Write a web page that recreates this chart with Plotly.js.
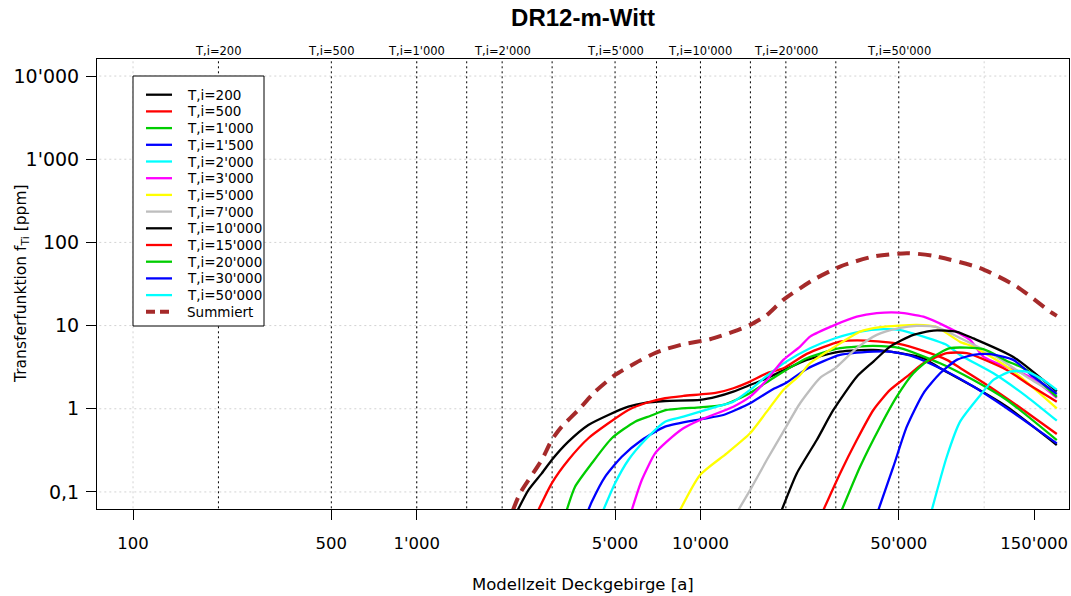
<!DOCTYPE html>
<html><head><meta charset="utf-8">
<script src="https://cdn.plot.ly/plotly-3.0.1.min.js"></script>
<style>html,body{margin:0;padding:0;background:#fff}#chart{width:1071px;height:596px}</style>
</head><body><div id="chart"></div>
<script>
// ---------------- DATA ----------------
const chartTitle = "DR12-m-Witt";
const xTitle = "Modellzeit Deckgebirge [a]";
const yTitle = "Transferfunktion f<sub>Ti</sub> [ppm]";

const seriesNames = ["T,i=200","T,i=500","T,i=1'000","T,i=1'500","T,i=2'000","T,i=3'000","T,i=5'000",
  "T,i=7'000","T,i=10'000","T,i=15'000","T,i=20'000","T,i=30'000","T,i=50'000"];
const sumName = "Summiert";

const x_Ti200 = [2270,2475,2758,2991,3423,4026,4736,5570,6380,7503,9967,11417,13061,14958,17128,20000,23700,31050,40690,50520,61070,69930,91600,120200,180300];
const y_Ti200 = [0.0606,0.105,0.167,0.242,0.402,0.638,0.842,1.06,1.18,1.24,1.28,1.40,1.61,1.93,2.33,2.99,3.87,4.87,5.10,4.66,4.05,3.07,1.85,1.06,0.367];

const x_Ti500 = [2683,2991,3423,4026,4736,5570,6380,7503,8705,11417,13061,14958,17128,19596,23700,31050,38570,50120,61070,73820,82230,104900,137500,180300];
const y_Ti500 = [0.0606,0.127,0.242,0.442,0.669,0.967,1.165,1.338,1.426,1.562,1.765,2.12,2.67,3.07,4.57,6.42,6.60,6.02,4.96,3.87,3.10,1.83,0.967,0.498];

const x_Ti1000 = [3379,3614,4140,4869,5882,6643,7607,9967,12040,14958,18070,23700,31050,40690,50520,69930,91600,120200,180300];
const y_Ti1000 = [0.0606,0.1155,0.221,0.442,0.70,0.819,0.967,1.042,1.111,1.55,2.35,4.05,5.35,5.70,5.35,3.53,2.22,1.276,0.421];

const x_Ti1500 = [4026,4140,4610,5280,6212,7503,9967,12040,14958,18070,20000,23700,31050,40690,46590,56280,69930,91600,120200,180300];
const y_Ti1500 = [0.0606,0.0762,0.152,0.265,0.421,0.609,0.748,0.842,1.165,1.73,2.04,3.01,4.44,4.87,4.87,4.24,3.07,1.85,1.014,0.384];

const x_Ti2000 = [4547,5000,5570,6380,7503,8705,11417,13061,14958,17128,20000,24337,29820,36530,44120,50120,61070,73820,82230,107800,141300,180300];
const y_Ti2000 = [0.0606,0.127,0.242,0.421,0.70,0.803,1.06,1.217,1.684,2.48,3.66,5.35,7.05,8.47,9.05,8.88,7.37,5.86,4.44,2.67,1.40,0.719];

const x_Ti3000 = [5727,6212,6918,7607,8705,9967,13061,14958,17128,19596,22443,24337,29820,35563,41820,50120,61070,73820,89180,99680,145200,180300];
const y_Ti3000 = [0.0606,0.139,0.291,0.402,0.582,0.733,1.06,1.398,2.22,3.87,5.59,7.37,10.2,12.8,14.1,14.3,12.8,9.65,6.73,4.20,2.41,1.35];

const x_Ti5000 = [8475,9967,12380,14958,17128,19596,22443,24337,29820,36530,42960,50120,57850,68080,82230,91600,120200,145200,180300];
const y_Ti5000 = [0.0606,0.160,0.291,0.507,0.923,1.684,2.55,3.53,5.59,8.47,9.57,10.0,10.2,9.57,6.37,5.59,3.21,1.93,1.014];

const x_Ti7000 = [13602,14958,17128,19596,22443,26400,29820,35563,41820,50120,57850,68080,82230,107800,141300,180300];
const y_Ti7000 = [0.0606,0.105,0.242,0.530,1.165,2.35,3.07,5.35,7.73,9.31,9.92,9.57,7.11,4.44,2.43,1.466];

const x_Ti10000 = [19344,21850,25700,29410,35563,40690,46590,56280,66220,80040,91600,126700,180300];
const y_Ti10000 = [0.0606,0.167,0.421,0.967,2.43,3.69,5.59,7.73,8.71,8.43,7.01,4.20,1.615];

const x_Ti15000 = [27117,31050,35563,40690,46590,53360,61070,73820,86820,120200,141300,180300];
const y_Ti15000 = [0.0606,0.167,0.421,0.967,1.684,2.43,3.53,4.66,4.66,2.93,2.03,1.217];

const x_Ti20000 = [31486,36530,42960,49190,56280,64470,75830,99360,120200,141300,180300];
const y_Ti20000 = [0.0606,0.201,0.609,1.398,2.67,4.0,5.35,5.20,3.76,2.93,1.387];

const x_Ti30000 = [42370,47860,53360,61070,69930,80040,91600,104900,126700,149100,180300];
const y_Ti30000 = [0.0606,0.201,0.609,1.536,2.67,3.87,4.44,4.53,3.87,2.43,1.51];

const x_Ti50000 = [65370,73820,82230,97050,107800,123400,141300,161700,180300];
const y_Ti50000 = [0.0606,0.265,0.70,1.466,2.22,2.80,2.80,2.22,1.684];

const x_Sum = [2184,2312,2758,2991,3244,3712,4251,5000,5882,7106,8705,10810,13061,14958,17128,19596,25000,31050,40690,53360,66220,96740,130300,170800,180300];
const y_Sum = [0.0606,0.0962,0.242,0.421,0.609,0.967,1.606,2.55,3.53,4.87,5.97,6.86,8.47,10.2,13.4,20.4,35.5,51.3,67.7,74.3,69.0,49.1,29.5,14.7,13.1];

// vertical reference lines (T,i values) and the labelled ones
const tiLines = [200,500,1000,1500,2000,3000,5000,7000,10000,15000,20000,30000,50000];
const tiLabelled = [200,500,1000,2000,5000,10000,20000,50000];

// axis ticks
const xTickVals = [100,500,1000,5000,10000,50000,150000];
const yTickVals = [0.1,1,10,100,1000,10000];
const yTickText = ["0,1","1","10","100","1'000","10'000"];
const gridX = [100,1000,10000,100000];
const gridY = [0.1,1,10,100,1000,10000];

// ---------------- STYLE ----------------
const seriesColors = ["#000000","#FF0000","#00CD00","#0000FF","#00FFFF","#FF00FF","#FFFF00",
  "#BEBEBE","#000000","#FF0000","#00CD00","#0000FF","#00FFFF"];
const sumColor = "#A52A2A";
const FONT = "DejaVu Sans, Verdana, sans-serif";

const fmt = v => String(v).replace(/\B(?=(\d{3})+(?!\d))/g, "'");

const seriesX = [x_Ti200,x_Ti500,x_Ti1000,x_Ti1500,x_Ti2000,x_Ti3000,x_Ti5000,x_Ti7000,x_Ti10000,x_Ti15000,x_Ti20000,x_Ti30000,x_Ti50000];
const seriesY = [y_Ti200,y_Ti500,y_Ti1000,y_Ti1500,y_Ti2000,y_Ti3000,y_Ti5000,y_Ti7000,y_Ti10000,y_Ti15000,y_Ti20000,y_Ti30000,y_Ti50000];

const traces = [];
// light grey dotted grid
const gx = [], gy = [];
gridY.forEach(v => { gx.push(10, 1e7, null); gy.push(v, v, null); });
gridX.forEach(v => { gx.push(v, v, null); gy.push(1e-3, 1e6, null); });
traces.push({x: gx, y: gy, mode: 'lines', line: {color: '#D3D3D3', width: 1, dash: '2px,3px'},
  hoverinfo: 'skip', showlegend: false});
// black dotted T,i lines
const vx = [], vy = [];
tiLines.forEach(v => { vx.push(v, v, null); vy.push(1e-3, 1e6, null); });
traces.push({x: vx, y: vy, mode: 'lines', line: {color: '#000000', width: 1, dash: '2px,3px'},
  hoverinfo: 'skip', showlegend: false});

seriesNames.forEach((n, i) => {
  traces.push({x: seriesX[i], y: seriesY[i], name: n, mode: 'lines',
    line: {color: seriesColors[i], width: 2.3, shape: 'spline', smoothing: 0.6}, showlegend: false});
});
traces.push({x: x_Sum, y: y_Sum, name: sumName, mode: 'lines',
  line: {color: sumColor, width: 4, dash: '13px,8px', shape: 'spline', smoothing: 0.6}, showlegend: false});

// ---------------- LAYOUT ----------------
const L = 97, R = 1069, T = 59, B = 509;
const px = p => (p - L) / (R - L);
const py = p => (B - p) / (B - T);

const shapes = [], annotations = [];
// legend box
shapes.push({type: 'rect', xref: 'paper', yref: 'paper', x0: px(133), x1: px(264), y0: py(326), y1: py(76),
  line: {color: '#000', width: 1}, fillcolor: '#fff', layer: 'above'});
const legendNames = seriesNames.concat([sumName]);
const legendColors = seriesColors.concat([sumColor]);
legendNames.forEach((n, i) => {
  const rowY = 94.7 + i * 16.7;
  const isSum = i === legendNames.length - 1;
  shapes.push({type: 'line', xref: 'paper', yref: 'paper', x0: px(146), x1: px(172), y0: py(rowY), y1: py(rowY),
    line: {color: legendColors[i], width: isSum ? 4 : 2.3, dash: isSum ? '9px,5px' : 'solid'}, layer: 'above'});
  annotations.push({xref: 'paper', yref: 'paper', x: px(185), y: py(rowY), xanchor: 'left', yanchor: 'middle',
    text: n, showarrow: false, font: {family: FONT, size: 13.5, color: '#000'}});
});
// top T,i labels
tiLabelled.forEach(v => {
  annotations.push({xref: 'x', yref: 'paper', x: Math.log10(v), y: py(50.7), xanchor: 'center', yanchor: 'middle',
    text: 'T,i=' + fmt(v), showarrow: false, font: {family: FONT, size: 11.5, color: '#000'}});
});
// axis titles
annotations.push({xref: 'paper', yref: 'paper', x: 0.5, y: py(584), xanchor: 'center', yanchor: 'middle',
  text: xTitle, showarrow: false, font: {family: FONT, size: 16.5, color: '#000'}});
annotations.push({xref: 'paper', yref: 'paper', x: px(22), y: 0.5, xanchor: 'center', yanchor: 'middle',
  text: yTitle, textangle: -90, showarrow: false, font: {family: FONT, size: 15.5, color: '#000'}});

const layout = {
  width: 1071, height: 596,
  margin: {l: L, r: 1071 - R, t: T, b: 596 - B, pad: 0},
  paper_bgcolor: '#fff', plot_bgcolor: '#fff',
  showlegend: false,
  title: {text: '<b>' + chartTitle + '</b>', x: 0.5, xref: 'paper', xanchor: 'center',
    y: 1 - 18 / 596, yref: 'container', yanchor: 'middle',
    font: {family: 'Liberation Sans, Arial, sans-serif', size: 24, color: '#000'}},
  xaxis: {type: 'log', range: [1.873, 5.299], showgrid: false, zeroline: false,
    showline: true, mirror: true, linecolor: '#000', linewidth: 1,
    ticks: 'outside', ticklen: 10, tickwidth: 1, tickcolor: '#000',
    tickvals: xTickVals, ticktext: xTickVals.map(fmt), ticklabelstandoff: 9,
    tickfont: {family: FONT, size: 16.5, color: '#000'}},
  yaxis: {type: 'log', range: [-1.205, 4.205], showgrid: false, zeroline: false,
    showline: true, mirror: true, linecolor: '#000', linewidth: 1,
    ticks: 'outside', ticklen: 10, tickwidth: 1, tickcolor: '#000',
    tickvals: yTickVals, ticktext: yTickText, ticklabelstandoff: 3,
    tickfont: {family: FONT, size: 19, color: '#000'}},
  shapes: shapes,
  annotations: annotations
};

Plotly.newPlot('chart', traces, layout, {staticPlot: true, displayModeBar: false});
</script>
</body></html>
